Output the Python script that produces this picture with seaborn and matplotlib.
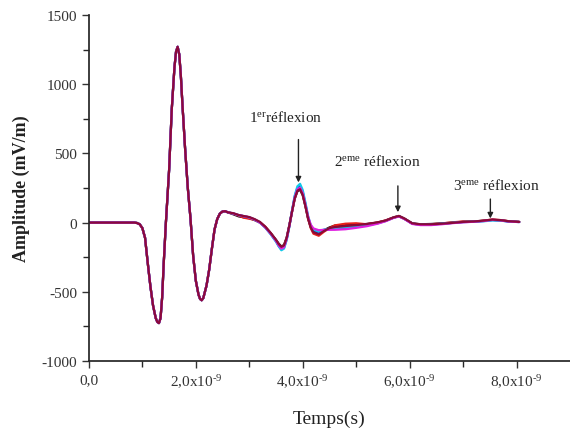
import numpy as np
import pandas as pd
import matplotlib
matplotlib.use("Agg")
import matplotlib.pyplot as plt
import seaborn as sns

# time in ns (common pulse part)
t_pulse = [0.0, 0.5, 0.85, 0.9, 0.95, 1.0, 1.05, 1.1, 1.15, 1.2, 1.25, 1.28, 1.31, 1.34,
           1.37, 1.4, 1.44, 1.5, 1.55, 1.6, 1.63, 1.66, 1.69, 1.72, 1.75, 1.8, 1.85,
           1.9, 1.95, 2.0, 2.05, 2.08, 2.11, 2.14, 2.2, 2.25, 2.3, 2.35, 2.4, 2.45,
           2.5, 2.55, 2.6]
a_pulse = [0, 0, 0, -3, -12, -40, -110, -290, -460, -600, -690, -718, -726, -690,
           -540, -290, 0, 380, 820, 1120, 1235, 1270, 1215, 1060, 850, 530, 250,
           30, -240, -420, -520, -552, -561, -545, -455, -340, -190, -50, 25, 65,
           80, 82, 74]

# tail time in ns
t_tail = [2.7, 2.8, 2.9, 3.0, 3.1, 3.2, 3.3, 3.4, 3.5, 3.55, 3.6, 3.65, 3.7, 3.75,
          3.8, 3.85, 3.9, 3.95, 4.0, 4.05, 4.1, 4.15, 4.2, 4.3, 4.4, 4.5, 4.6, 4.8,
          5.0, 5.2, 5.4, 5.55, 5.7, 5.8, 5.9, 6.05, 6.2, 6.4, 6.6, 6.8, 7.0, 7.2,
          7.4, 7.55, 7.7, 7.85, 8.05]

tail_black = [60, 45, 38, 32, 18, 0, -32, -75, -125, -152, -172, -162, -108, -18,
              80, 172, 226, 238, 198, 118, 30, -32, -65, -78, -55, -35, -22, -15,
              -15, -10, 0, 14, 36, 46, 28, -6, -12, -10, -6, 0, 6, 8, 14, 20, 16, 10, 5]
tail_red = [64, 50, 35, 28, 20, 2, -30, -76, -128, -158, -178, -168, -112, -22,
            78, 176, 232, 245, 205, 122, 28, -40, -80, -95, -65, -40, -20, -8,
            -5, -12, 0, 16, 38, 48, 30, -8, -14, -12, -6, 2, 8, 6, 15, 22, 18, 10, 5]
tail_blue = [66, 54, 46, 38, 22, 0, -36, -82, -135, -168, -192, -180, -120, -25,
             85, 188, 250, 265, 222, 135, 40, -25, -55, -70, -55, -48, -45, -40,
             -30, -20, -5, 12, 36, 46, 28, -8, -14, -14, -8, -2, 4, 6, 12, 18, 15, 8, 4]
tail_cyan = [66, 54, 46, 38, 22, 0, -36, -84, -138, -172, -200, -188, -125, -28,
             88, 195, 262, 280, 235, 145, 48, -20, -50, -65, -50, -44, -40, -35,
             -28, -18, -4, 12, 36, 46, 28, -8, -14, -14, -8, -2, 4, 6, 10, 16, 14, 8, 4]
tail_magenta = [66, 54, 46, 38, 22, 0, -35, -80, -132, -165, -188, -178, -118, -24,
                82, 182, 240, 252, 212, 130, 42, -15, -42, -55, -52, -52, -52, -48,
                -38, -26, -8, 10, 34, 44, 26, -10, -18, -18, -12, -4, 2, 6, 12, 20, 16, 8, 4]
tail_maroon = [68, 55, 47, 40, 25, 5, -30, -75, -125, -155, -175, -165, -110, -20,
               80, 175, 230, 241, 200, 120, 30, -35, -70, -85, -60, -40, -32, -25,
               -18, -10, 2, 15, 38, 48, 30, -5, -12, -12, -8, -2, 5, 8, 15, 22, 18, 10, 5]

series_names = ["black", "red", "blue", "cyan", "magenta", "maroon"]
series_colors = ["#111111", "#e8201a", "#2038d0", "#10c8e8", "#e020e0", "#8a0a3a"]
tails = [tail_black, tail_red, tail_blue, tail_cyan, tail_magenta, tail_maroon]

frames = []
for name, tail in zip(series_names, tails):
    frames.append(pd.DataFrame({"t": t_pulse + t_tail,
                                "amp": a_pulse + tail,
                                "serie": name}))
df = pd.concat(frames, ignore_index=True)

sns.set_theme(style="ticks")
plt.rcParams["font.family"] = ["Liberation Serif", "DejaVu Serif"]
plt.rcParams["mathtext.fontset"] = "custom"
plt.rcParams["mathtext.rm"] = "Liberation Serif"
plt.rcParams["mathtext.it"] = "Liberation Serif"

fig = plt.figure(figsize=(5.70, 4.39), dpi=100)
ax = fig.add_axes([0.156, 0.1754, 0.844, 0.7882])

sns.lineplot(data=df, x="t", y="amp", hue="serie", palette=dict(zip(series_names, series_colors)),
             hue_order=series_names, sort=False, estimator=None, lw=1.6, legend=False, ax=ax)

ax.set_xlim(0, 9.0)
ax.set_ylim(-1000, 1500)
ax.spines["top"].set_visible(False)
ax.spines["right"].set_visible(False)

xticks = [0, 2, 4, 6, 8]
xlabels = ["0,0", "2,0x10$^{\u20109}$", "4,0x10$^{\u20109}$", "6,0x10$^{\u20109}$", "8,0x10$^{\u20109}$"]
ax.set_xticks(xticks)
ax.set_xticklabels(xlabels)
ax.set_xticks([1, 3, 5, 7], minor=True)
yticks = [-1000, -500, 0, 500, 1000, 1500]
ax.set_yticks(yticks)
ax.set_yticklabels([str(v) for v in yticks])
ax.set_yticks([-750, -250, 250, 750, 1250], minor=True)
ax.tick_params(which="major", length=5, width=1, direction="out", labelsize=11, colors="#333333")
ax.tick_params(which="minor", length=4, width=1, direction="out")
for lab in ax.get_xticklabels() + ax.get_yticklabels():
    lab.set_color("#333333")

ax.set_xlabel("Temps(s)", fontsize=14, color="#222222", labelpad=14)
ax.set_ylabel("Amplitude (mV/m)", fontsize=13, fontweight="bold", color="#222222", labelpad=8)

arrow_kw = dict(arrowstyle="-|>", color="#222222", lw=1, mutation_scale=8, shrinkA=0, shrinkB=0)
ax.annotate("", xy=(3.92, 290), xytext=(3.92, 600), arrowprops=arrow_kw)
ax.annotate("", xy=(5.78, 75), xytext=(5.78, 265), arrowprops=arrow_kw)
ax.annotate("", xy=(7.51, 30), xytext=(7.51, 170), arrowprops=arrow_kw)
ax.text(3.68, 770, r"1$^{er}$réflexion", ha="center", va="center", fontsize=11, color="#222222")
ax.text(5.40, 448, r"2$^{eme}$ réflexion", ha="center", va="center", fontsize=11, color="#222222")
ax.text(7.63, 278, r"3$^{eme}$ réflexion", ha="center", va="center", fontsize=11, color="#222222")

fig.savefig("out.png", dpi=100)
